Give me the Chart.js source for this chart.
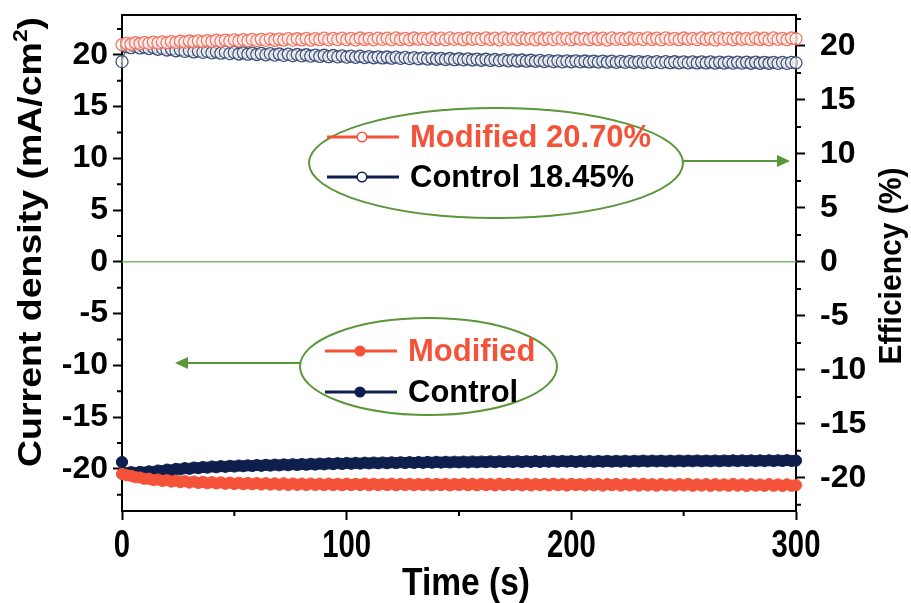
<!DOCTYPE html>
<html><head><meta charset="utf-8">
<script src="https://cdn.jsdelivr.net/npm/chart.js@4.4.1/dist/chart.umd.min.js"></script>
<style>html,body{margin:0;padding:0;background:#fff;}#wrap{width:911px;height:603px;position:relative;}</style>
</head><body><div id="wrap"><canvas id="c" width="911" height="603"></canvas></div>
<script>
// ---------- data ----------
const times = [0,2,4,6,8,10,12,14,16,18,20,22,24,26,28,30,32,34,36,38,40,42,44,46,48,50,52,54,56,58,60,62,64,66,68,70,72,74,76,78,80,82,84,86,88,90,92,94,96,98,100,102,104,106,108,110,112,114,116,118,120,122,124,126,128,130,132,134,136,138,140,142,144,146,148,150,152,154,156,158,160,162,164,166,168,170,172,174,176,178,180,182,184,186,188,190,192,194,196,198,200,202,204,206,208,210,212,214,216,218,220,222,224,226,228,230,232,234,236,238,240,242,244,246,248,250,252,254,256,258,260,262,264,266,268,270,272,274,276,278,280,282,284,286,288,290,292,294,296,298,300];

const effModified = [
20.12,20.25,20.16,20.30,20.21,20.33,20.24,20.36,20.27,20.38,
20.30,20.41,20.33,20.44,20.35,20.46,20.37,20.48,20.39,20.50,
20.41,20.53,20.43,20.55,20.45,20.57,20.47,20.58,20.49,20.61,
20.50,20.62,20.52,20.66,20.53,20.64,20.55,20.68,20.54,20.67,
20.56,20.70,20.55,20.69,20.58,20.72,20.57,20.70,20.59,20.73,
20.58,20.71,20.56,20.74,20.60,20.70,20.57,20.73,20.61,20.72,
20.58,20.75,20.60,20.71,20.57,20.74,20.62,20.70,20.59,20.76,
20.60,20.72,20.57,20.75,20.61,20.71,20.58,20.74,20.62,20.70,
20.59,20.76,20.60,20.72,20.56,20.75,20.61,20.71,20.58,20.74,
20.62,20.70,20.57,20.76,20.60,20.72,20.59,20.75,20.61,20.71,
20.57,20.74,20.62,20.70,20.58,20.76,20.60,20.72,20.56,20.75,
20.61,20.71,20.58,20.74,20.62,20.70,20.59,20.76,20.60,20.72,
20.57,20.75,20.61,20.71,20.58,20.74,20.62,20.70,20.59,20.76,
20.60,20.72,20.56,20.75,20.61,20.71,20.58,20.74,20.62,20.70,
20.59,20.76,20.60,20.72,20.57,20.75,20.61,20.71,20.58,20.74,
20.66];

const effControl = [
18.55,19.95,19.84,19.96,19.82,19.90,19.76,19.86,19.70,19.78,
19.63,19.72,19.56,19.65,19.50,19.58,19.45,19.54,19.41,19.50,
19.37,19.46,19.33,19.43,19.29,19.40,19.26,19.37,19.24,19.33,
19.21,19.31,19.18,19.29,19.15,19.26,19.13,19.24,19.11,19.21,
19.08,19.19,19.06,19.16,19.03,19.14,19.01,19.12,18.99,19.09,
18.97,19.07,18.95,19.05,18.93,19.02,18.91,19.00,18.89,18.98,
18.87,18.96,18.85,18.94,18.83,18.92,18.81,18.90,18.79,18.88,
18.77,18.86,18.75,18.84,18.73,18.82,18.71,18.80,18.70,18.78,
18.68,18.77,18.66,18.75,18.64,18.73,18.63,18.71,18.61,18.70,
18.59,18.68,18.58,18.66,18.56,18.65,18.55,18.63,18.53,18.62,
18.54,18.63,18.53,18.61,18.52,18.60,18.51,18.60,18.50,18.59,
18.49,18.58,18.48,18.57,18.47,18.56,18.47,18.55,18.46,18.55,
18.46,18.55,18.45,18.54,18.44,18.53,18.44,18.53,18.43,18.52,
18.43,18.52,18.42,18.51,18.42,18.51,18.41,18.50,18.41,18.50,
18.40,18.50,18.40,18.49,18.40,18.49,18.39,18.48,18.39,18.48,
18.44];

const jscModified = [
-20.50,-20.62,-20.68,-20.82,-20.84,-20.97,-20.96,-21.09,-21.04,-21.17,
-21.10,-21.24,-21.15,-21.29,-21.19,-21.33,-21.23,-21.37,-21.26,-21.40,
-21.29,-21.42,-21.31,-21.45,-21.33,-21.47,-21.35,-21.49,-21.37,-21.50,
-21.38,-21.52,-21.39,-21.53,-21.41,-21.54,-21.40,-21.56,-21.42,-21.55,
-21.43,-21.57,-21.42,-21.56,-21.44,-21.58,-21.43,-21.57,-21.45,-21.59,
-21.44,-21.58,-21.46,-21.57,-21.43,-21.59,-21.45,-21.58,-21.47,-21.57,
-21.44,-21.60,-21.46,-21.58,-21.45,-21.59,-21.47,-21.57,-21.44,-21.60,
-21.46,-21.58,-21.45,-21.61,-21.47,-21.57,-21.44,-21.59,-21.46,-21.60,
-21.45,-21.58,-21.47,-21.61,-21.44,-21.59,-21.46,-21.57,-21.48,-21.60,
-21.45,-21.61,-21.47,-21.58,-21.46,-21.60,-21.44,-21.59,-21.48,-21.62,
-21.46,-21.58,-21.49,-21.61,-21.45,-21.60,-21.47,-21.63,-21.48,-21.59,
-21.46,-21.62,-21.49,-21.60,-21.47,-21.63,-21.45,-21.61,-21.49,-21.64,
-21.47,-21.60,-21.50,-21.63,-21.48,-21.61,-21.46,-21.64,-21.50,-21.62,
-21.48,-21.65,-21.49,-21.62,-21.51,-21.64,-21.47,-21.63,-21.50,-21.66,
-21.49,-21.63,-21.52,-21.65,-21.48,-21.64,-21.51,-21.66,-21.50,-21.64,
-21.58];

const jscControl = [
-19.35,-20.42,-20.33,-20.40,-20.30,-20.36,-20.25,-20.30,-20.17,-20.22,
-20.08,-20.14,-20.01,-20.06,-19.94,-20.00,-19.88,-19.94,-19.83,-19.89,
-19.78,-19.85,-19.75,-19.81,-19.72,-19.78,-19.69,-19.75,-19.67,-19.73,
-19.64,-19.71,-19.62,-19.69,-19.60,-19.67,-19.58,-19.65,-19.56,-19.63,
-19.54,-19.61,-19.52,-19.59,-19.50,-19.57,-19.48,-19.55,-19.46,-19.53,
-19.44,-19.51,-19.43,-19.50,-19.41,-19.48,-19.40,-19.47,-19.39,-19.46,
-19.38,-19.45,-19.37,-19.44,-19.36,-19.43,-19.35,-19.42,-19.34,-19.41,
-19.33,-19.40,-19.33,-19.39,-19.32,-19.38,-19.31,-19.38,-19.30,-19.37,
-19.30,-19.36,-19.29,-19.36,-19.28,-19.35,-19.28,-19.34,-19.27,-19.34,
-19.27,-19.33,-19.26,-19.33,-19.26,-19.32,-19.25,-19.32,-19.25,-19.31,
-19.26,-19.33,-19.26,-19.32,-19.25,-19.32,-19.25,-19.31,-19.24,-19.31,
-19.24,-19.30,-19.23,-19.30,-19.23,-19.29,-19.22,-19.29,-19.22,-19.28,
-19.22,-19.29,-19.22,-19.28,-19.21,-19.28,-19.21,-19.27,-19.20,-19.27,
-19.21,-19.27,-19.20,-19.27,-19.20,-19.26,-19.19,-19.26,-19.19,-19.25,
-19.19,-19.26,-19.19,-19.25,-19.18,-19.25,-19.18,-19.24,-19.17,-19.24,
-19.21];

const leftTicks  = [-20,-15,-10,-5,0,5,10,15,20];
const leftMinor  = [-22.5,-17.5,-12.5,-7.5,-2.5,2.5,7.5,12.5,17.5,22.5];
const rightTicks = [-20,-15,-10,-5,0,5,10,15,20];
const rightMinor = [-22.5,-17.5,-12.5,-7.5,-2.5,2.5,7.5,12.5,17.5,22.5];
const xTicks = [0,100,200,300];
const xMinor = [50,150,250];
const effLabels = ['Modified 20.70%','Control 18.45%'];
const jscLabels = ['Modified','Control'];

// ---------- styles ----------
const RED = '#F4533A', NAVY = '#0E1F4E', RED_L = '#F37361', NAVY_L = '#3E5079';
const GREEN = '#5A963A', ZERO_GREEN = '#7BBB68';
const FONT = '"Liberation Sans", Arial, sans-serif';

function drawFitted(ctx, segs, cx, cy, rot, len, size, sx){
  const base = 'bold ' + size + 'px ' + FONT;
  const sup = 'bold ' + Math.round(size*0.62) + 'px ' + FONT;
  let w = 0;
  segs.forEach(s => { ctx.font = s.sup ? sup : base; s.w = ctx.measureText(s.t).width; w += s.w; });
  ctx.save();
  ctx.translate(cx, cy); ctx.rotate(rot); ctx.scale(sx || (len / w), 1);
  ctx.fillStyle = '#000'; ctx.textBaseline = 'middle'; ctx.textAlign = 'left';
  let x = -w / 2;
  segs.forEach(s => { ctx.font = s.sup ? sup : base; ctx.fillText(s.t, x, s.sup ? -size*0.33 : 0); x += s.w; });
  ctx.restore();
}

function arrow(ctx, x1, y, x2){
  const dir = Math.sign(x2 - x1), hl = 13, hw = 6;
  ctx.beginPath(); ctx.moveTo(x1, y); ctx.lineTo(x2 - dir*hl, y); ctx.stroke();
  ctx.beginPath(); ctx.moveTo(x2, y); ctx.lineTo(x2 - dir*hl, y - hw); ctx.lineTo(x2 - dir*hl, y + hw); ctx.closePath(); ctx.fill();
}

function legendRow(ctx, y, x0, color, filled, text, textColor){
  ctx.strokeStyle = color; ctx.lineWidth = 3;
  ctx.beginPath(); ctx.moveTo(x0, y); ctx.lineTo(x0 + 72, y); ctx.stroke();
  ctx.beginPath(); ctx.arc(x0 + 35, y, 4.8, 0, Math.PI*2);
  ctx.fillStyle = filled ? color : '#fff'; ctx.fill();
  ctx.lineWidth = 1.5; ctx.stroke();
  ctx.font = 'bold 31px ' + FONT; ctx.fillStyle = textColor;
  ctx.textBaseline = 'middle'; ctx.textAlign = 'left';
  ctx.fillText(text, x0 + 83, y + 1);
}

const decor = {
  id: 'decor',
  beforeDatasetsDraw(chart){
    const {ctx, chartArea: a, scales} = chart;
    const y0 = scales.y.getPixelForValue(0);
    ctx.save(); ctx.strokeStyle = ZERO_GREEN; ctx.lineWidth = 1.5;
    ctx.beginPath(); ctx.moveTo(a.left, y0); ctx.lineTo(a.right, y0); ctx.stroke();
    ctx.restore();
  },
  afterDraw(chart){
    const {ctx, chartArea: a, scales: {x, y, y1}} = chart;
    ctx.save();
    ctx.strokeStyle = '#000'; ctx.lineWidth = 2;
    ctx.beginPath(); ctx.moveTo(a.left - 1, a.top); ctx.lineTo(a.right + 1, a.top); ctx.stroke();
    ctx.beginPath();
    leftMinor.forEach(v => { const p = y.getPixelForValue(v); ctx.moveTo(a.left, p); ctx.lineTo(a.left - 5, p); });
    rightMinor.forEach(v => { const p = y1.getPixelForValue(v); ctx.moveTo(a.right, p); ctx.lineTo(a.right + 5, p); });
    xMinor.forEach(v => { const p = x.getPixelForValue(v); ctx.moveTo(p, a.bottom); ctx.lineTo(p, a.bottom + 5); });
    ctx.stroke();

    // x tick labels (tall, condensed like the reference)
    xTicks.forEach(v => drawFitted(ctx, [{t: String(v)}], x.getPixelForValue(v), a.bottom + 35, 0, 0, 39, 0.75));

    // legend ellipses + arrows
    ctx.strokeStyle = GREEN; ctx.fillStyle = GREEN; ctx.lineWidth = 2;
    ctx.beginPath(); ctx.ellipse(496, 163, 187, 55, 0, 0, Math.PI*2); ctx.stroke();
    arrow(ctx, 683, 161, 790);
    ctx.strokeStyle = GREEN; ctx.fillStyle = GREEN;
    ctx.beginPath(); ctx.ellipse(428.5, 366.5, 128.5, 48.5, 0, 0, Math.PI*2); ctx.stroke();
    arrow(ctx, 300, 363, 175);

    legendRow(ctx, 137, 327, RED, false, effLabels[0], RED);
    legendRow(ctx, 177, 327, NAVY, false, effLabels[1], '#000');
    legendRow(ctx, 351, 325, RED, true, jscLabels[0], RED);
    legendRow(ctx, 392, 325, NAVY, true, jscLabels[1], '#000');

    // axis titles
    drawFitted(ctx, [{t:'Current density (mA/cm'},{t:'2',sup:true},{t:')'}], 32, 242, -Math.PI/2, 450, 33);
    drawFitted(ctx, [{t:'Efficiency (%)'}], 892, 266, -Math.PI/2, 197, 32);
    drawFitted(ctx, [{t:'Time (s)'}], 466, 584, 0, 128, 39);
    ctx.restore();
  }
};

function ds(label, data, axis, color, open){
  return {
    label, data, yAxisID: axis,
    borderColor: color, borderWidth: 1.2,
    pointRadius: open ? 6 : 5.6, pointBorderWidth: open ? 1.3 : 1,
    pointBorderColor: color,
    pointBackgroundColor: open ? 'rgba(255,255,255,0.55)' : color,
    pointStyle: 'circle', tension: 0, clip: false
  };
}

const tickFont = {family: FONT, size: 32, weight: 'bold'};
function noPadY(s, w){ s.width = w; s.paddingTop = 0; s.paddingBottom = 0; }

new Chart(document.getElementById('c'), {
  type: 'line',
  data: {
    labels: times,
    datasets: [
      ds('Modified', effModified, 'y1', RED_L, true),
      ds('Control', effControl, 'y1', NAVY_L, true),
      ds('Modified', jscModified, 'y', RED, false),
      ds('Control', jscControl, 'y', NAVY, false)
    ]
  },
  options: {
    responsive: false, animation: false, devicePixelRatio: 1,
    layout: {padding: {top: 15, left: 0, right: 0, bottom: 0}},
    plugins: {legend: {display: false}, tooltip: {enabled: false}},
    scales: {
      x: {
        type: 'linear', min: 0, max: 300,
        afterFit(s){ s.height = 92; s.paddingLeft = 0; s.paddingRight = 0; },
        afterBuildTicks(s){ s.ticks = xTicks.map(v => ({value: v})); },
        ticks: {color: 'rgba(0,0,0,0)', font: {family: FONT, size: 20, weight: 'bold'}, padding: 6, maxRotation: 0, callback: v => String(v)},
        grid: {drawOnChartArea: false, drawTicks: true, tickLength: 9, tickColor: '#000', tickWidth: 2},
        border: {display: true, color: '#000', width: 2}
      },
      y: {
        type: 'linear', position: 'left', min: -24.08, max: 23.86,
        afterFit(s){ noPadY(s, 122); },
        afterBuildTicks(s){ s.ticks = leftTicks.map(v => ({value: v})); },
        ticks: {color: '#000', font: tickFont, padding: 5, callback: v => String(v)},
        grid: {drawOnChartArea: false, drawTicks: true, tickLength: 9, tickColor: '#000', tickWidth: 2},
        border: {display: true, color: '#000', width: 2}
      },
      y1: {
        type: 'linear', position: 'right', min: -23.07, max: 22.87,
        afterFit(s){ noPadY(s, 115); },
        afterBuildTicks(s){ s.ticks = rightTicks.map(v => ({value: v})); },
        ticks: {color: '#000', font: tickFont, padding: 15, callback: v => String(v)},
        grid: {drawOnChartArea: false, drawTicks: true, tickLength: 9, tickColor: '#000', tickWidth: 2},
        border: {display: true, color: '#000', width: 2}
      }
    }
  },
  plugins: [decor]
});
</script>
</body></html>
